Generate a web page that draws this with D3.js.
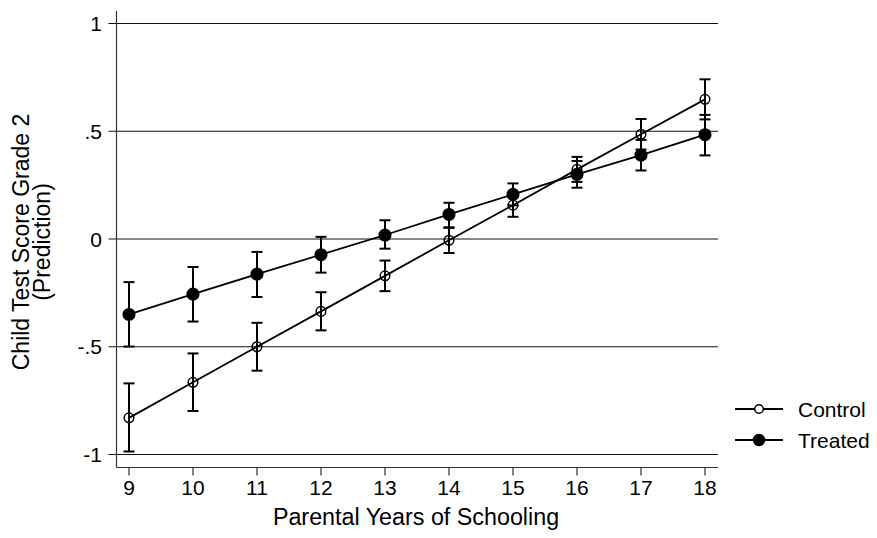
<!DOCTYPE html>
<html>
<head>
<meta charset="utf-8">
<script src="https://cdn.jsdelivr.net/npm/d3@7"></script>
<style>
  html, body { margin: 0; padding: 0; background: #fff; }
  svg { display: block; font-family: "Liberation Sans", Arial, sans-serif; }
</style>
</head>
<body>
<svg id="chart" width="877" height="538"></svg>
<script>
// Parental years of schooling (x categories)
const years = [9, 10, 11, 12, 13, 14, 15, 16, 17, 18];

// Control group: predicted score and 95% CI bounds
const controlMean = [-0.83, -0.665, -0.50, -0.336, -0.171, -0.006, 0.157, 0.323, 0.486, 0.648];
const controlLow  = [-0.986, -0.798, -0.611, -0.424, -0.242, -0.065, 0.103, 0.265, 0.415, 0.555];
const controlHigh = [-0.67, -0.531, -0.389, -0.247, -0.10, 0.054, 0.211, 0.381, 0.557, 0.741];

// Treated group: predicted score and 95% CI bounds
const treatedMean = [-0.35, -0.256, -0.163, -0.073, 0.0185, 0.114, 0.207, 0.30, 0.389, 0.484];
const treatedLow  = [-0.499, -0.383, -0.269, -0.156, -0.045, 0.052, 0.156, 0.238, 0.318, 0.388];
const treatedHigh = [-0.20, -0.13, -0.06, 0.01, 0.087, 0.168, 0.258, 0.362, 0.46, 0.576];

// Axis ticks
const yTicks = [-1, -0.5, 0, 0.5, 1];
const yTickLabels = ["-1", "-.5", "0", ".5", "1"];
const xTicks = years;

const seriesNames = ["Control", "Treated"];

const svg = d3.select("#chart");

const x = d3.scaleLinear().domain([9, 18]).range([129, 705]);
const y = d3.scaleLinear().domain([-1, 1]).range([454.5, 23.5]);

const plotLeft = 116.5, plotRight = 718, plotTop = 11, plotBottom = 467.5;

// Horizontal grid lines at each y tick (extending left as the tick marks)
svg.append("g")
  .selectAll("line")
  .data(yTicks)
  .join("line")
  .attr("x1", plotLeft - 8)
  .attr("x2", plotRight)
  .attr("y1", d => y(d))
  .attr("y2", d => y(d))
  .attr("stroke", "#111")
  .attr("stroke-width", 1);

// Y axis line
svg.append("line")
  .attr("x1", plotLeft).attr("x2", plotLeft)
  .attr("y1", plotTop).attr("y2", plotBottom)
  .attr("stroke", "#333").attr("stroke-width", 1.2);

// X axis line
svg.append("line")
  .attr("x1", plotLeft).attr("x2", plotRight)
  .attr("y1", plotBottom).attr("y2", plotBottom)
  .attr("stroke", "#333").attr("stroke-width", 1.2);

// Y tick labels
svg.append("g")
  .selectAll("text")
  .data(yTicks)
  .join("text")
  .attr("x", 102)
  .attr("y", d => y(d))
  .attr("dy", "0.36em")
  .attr("text-anchor", "end")
  .attr("font-size", 21)
  .attr("fill", "#000")
  .text((d, i) => yTickLabels[i]);

// X ticks and labels
const xg = svg.append("g");
xg.selectAll("line")
  .data(xTicks)
  .join("line")
  .attr("x1", d => x(d)).attr("x2", d => x(d))
  .attr("y1", plotBottom).attr("y2", plotBottom + 8)
  .attr("stroke", "#333").attr("stroke-width", 1.2);
xg.selectAll("text")
  .data(xTicks)
  .join("text")
  .attr("x", d => x(d))
  .attr("y", 495)
  .attr("text-anchor", "middle")
  .attr("font-size", 21)
  .attr("fill", "#000")
  .text(d => d);

// Axis titles
svg.append("text")
  .attr("x", 416).attr("y", 525)
  .attr("text-anchor", "middle")
  .attr("font-size", 23.3)
  .text("Parental Years of Schooling");

const yt = svg.append("text")
  .attr("transform", "translate(0,242) rotate(-90)")
  .attr("text-anchor", "middle")
  .attr("font-size", 23);
yt.append("tspan").attr("x", 0).attr("y", 29).text("Child Test Score Grade 2");
yt.append("tspan").attr("x", 0).attr("y", 50).text("(Prediction)");

// Series drawing
const series = [
  { name: seriesNames[0], mean: controlMean, lo: controlLow, hi: controlHigh, filled: false },
  { name: seriesNames[1], mean: treatedMean, lo: treatedLow, hi: treatedHigh, filled: true }
];

const line = d3.line().x(d => x(d.year)).y(d => y(d.v));
const capHalf = 5.5;

series.forEach(s => {
  const pts = years.map((yr, i) => ({ year: yr, v: s.mean[i], lo: s.lo[i], hi: s.hi[i] }));
  const g = svg.append("g");

  // Error bars with caps
  const eb = g.append("g").attr("stroke", "#000").attr("stroke-width", 2);
  eb.selectAll("line.v").data(pts).join("line")
    .attr("x1", d => x(d.year)).attr("x2", d => x(d.year))
    .attr("y1", d => y(d.lo)).attr("y2", d => y(d.hi));
  eb.selectAll("line.t").data(pts).join("line")
    .attr("x1", d => x(d.year) - capHalf).attr("x2", d => x(d.year) + capHalf)
    .attr("y1", d => y(d.hi)).attr("y2", d => y(d.hi));
  eb.selectAll("line.b").data(pts).join("line")
    .attr("x1", d => x(d.year) - capHalf).attr("x2", d => x(d.year) + capHalf)
    .attr("y1", d => y(d.lo)).attr("y2", d => y(d.lo));

  // Connecting line
  g.append("path")
    .datum(pts)
    .attr("d", line)
    .attr("fill", "none")
    .attr("stroke", "#000")
    .attr("stroke-width", 1.8);

  // Markers
  g.selectAll("circle").data(pts).join("circle")
    .attr("cx", d => x(d.year))
    .attr("cy", d => y(d.v))
    .attr("r", s.filled ? 5.8 : 4.8)
    .attr("fill", s.filled ? "#000" : "none")
    .attr("stroke", "#000")
    .attr("stroke-width", 1.5);
});

// Legend
const legend = svg.append("g");
series.forEach((s, i) => {
  const ly = 409 + i * 31;
  legend.append("line")
    .attr("x1", 735).attr("x2", 783)
    .attr("y1", ly).attr("y2", ly)
    .attr("stroke", "#000").attr("stroke-width", 1.8);
  legend.append("circle")
    .attr("cx", 759).attr("cy", ly)
    .attr("r", s.filled ? 5.5 : 4.3)
    .attr("fill", s.filled ? "#000" : "#fff")
    .attr("stroke", "#000").attr("stroke-width", 1.5);
  legend.append("text")
    .attr("x", 798).attr("y", ly)
    .attr("dy", "0.36em")
    .attr("font-size", 21)
    .text(s.name);
});
</script>
</body>
</html>
